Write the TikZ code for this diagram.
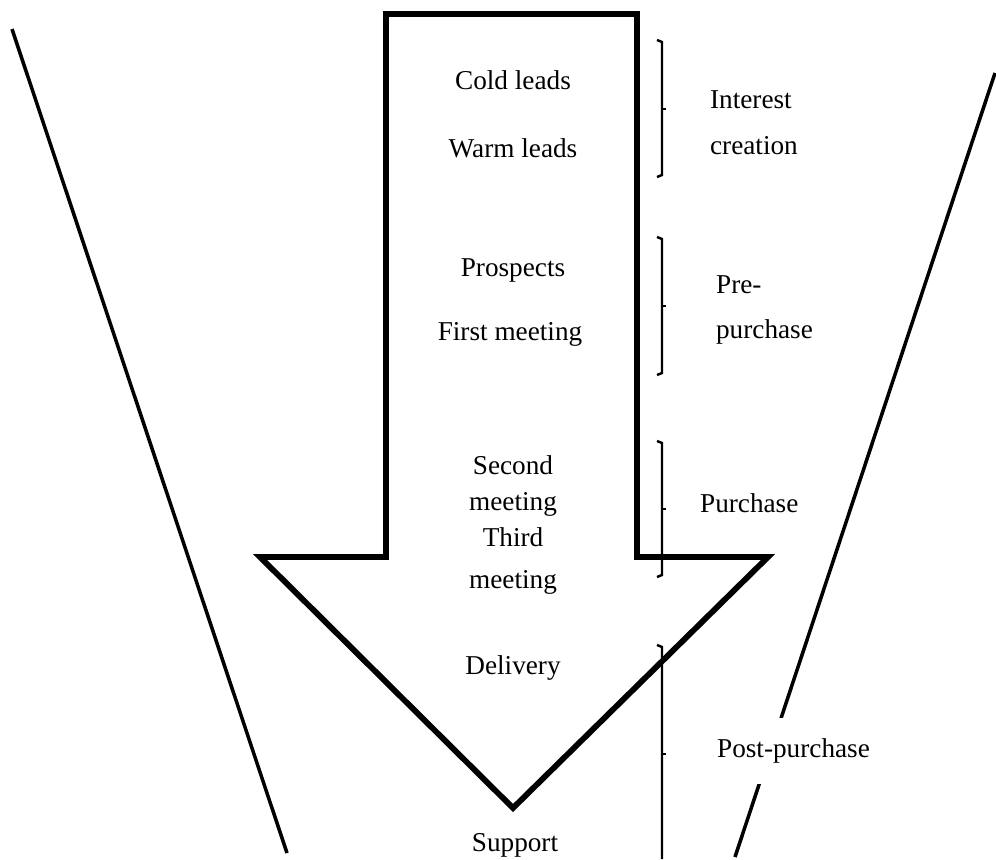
\documentclass[tikz,border=0pt]{standalone}
\usepackage{fontspec}
\setmainfont{Liberation Serif}
\usetikzlibrary{positioning}
\tikzset{
  stagetext/.style={font=\fontsize{15.5}{18}\selectfont,inner sep=1pt},
  phasetext/.style={stagetext,align=left,anchor=west},
  bigarrow/.style={draw=black,line width=3.3pt,line join=miter,fill=white},
  funnelline/.style={draw=black,line width=2pt},
  phasebrace/.style={draw=black,line width=1.4pt}
}
\begin{document}
\begin{tikzpicture}[x=0.02cm,y=-0.02cm]
  \useasboundingbox (0,0) rectangle (996,859);
  % funnel sides
  \draw[funnelline] (12,29) -- (287,853);
  \draw[funnelline] (995,73) -- (735,857);
  % the arrow
  \draw[bigarrow] (386,14) -- (637,14) -- (637,557) -- (768,557) -- (513,808) -- (260,557) -- (386,557) -- cycle;
  % stages
  \node[stagetext] (cold) at (513,80) {Cold leads};
  \node[stagetext] (warm) at (513,148) {Warm leads};
  \node[stagetext] (prospects) at (513,270) {Prospects};
  \node[stagetext] (first) at (510,334) {First meeting};
  \node[stagetext,align=center] (second) at (513,486) {Second\\[3pt]meeting};
  \node[stagetext,align=center] (third) at (513,561) {Third\\[6pt]meeting};
  \node[stagetext] (delivery) at (513,668) {Delivery};
  \node[stagetext] (support) at (515,845) {Support};
  % phases
  \node[phasetext] (interest) at (708,123) {Interest\\[8pt]creation};
  \node[phasetext] (prepurchase) at (714,310) {Pre-\\[8pt]purchase};
  \node[phasetext] (purchase) at (698,503) {Purchase};
  \node[phasetext,fill=white,inner ysep=12pt] (postpurchase) at (715,751) {Post-purchase};
  % braces
  \draw[phasebrace] (657,40) -- (662,42) -- (662,175) -- (657,177);
  \draw[phasebrace] (662,109) -- (666,109);
  \draw[phasebrace] (657,237) -- (662,239) -- (662,373) -- (657,375);
  \draw[phasebrace] (662,306) -- (666,306);
  \draw[phasebrace] (657,441) -- (662,443) -- (662,575) -- (657,577);
  \draw[phasebrace] (662,509) -- (666,509);
  \draw[phasebrace] (657,645) -- (662,647) -- (662,859);
  \draw[phasebrace] (662,754) -- (666,754);
\end{tikzpicture}
\end{document}
